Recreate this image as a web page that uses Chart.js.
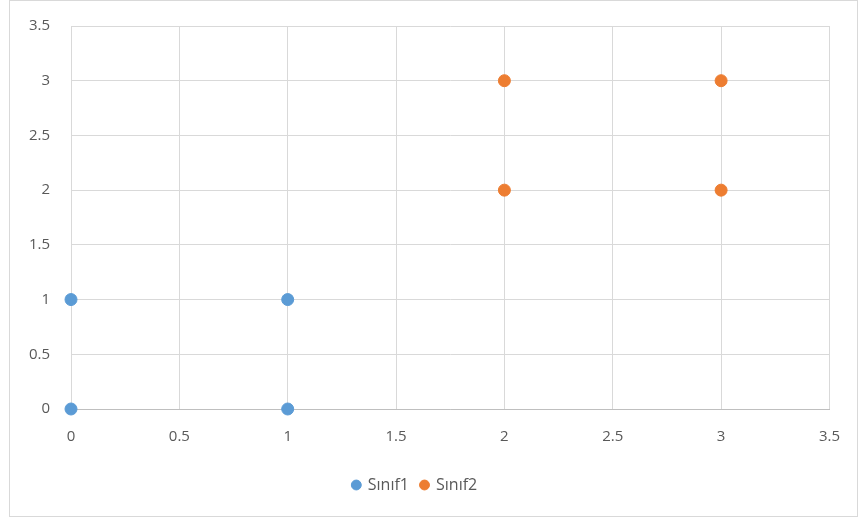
<!DOCTYPE html>
<html>
<head>
<meta charset="utf-8">
<script src="https://cdn.jsdelivr.net/npm/chart.js@4"></script>
<style>
    body { margin: 0; background: #fff; }
    #frame { position: absolute; left: 9px; top: 0; width: 849px; height: 517px; border: 1px solid #d9d9d9; box-sizing: border-box; }
    #wrap { position: absolute; left: 0; top: 0; width: 859px; height: 519px; }
</style>
</head>
<body>
<div id="frame"></div>
<div id="wrap"><canvas id="chart"></canvas></div>
<script>
// points per class
const sinif1X = [0, 0, 1, 1];
const sinif1Y = [0, 1, 0, 1];
const sinif2X = [2, 2, 3, 3];
const sinif2Y = [2, 3, 2, 3];
const seriesNames = ['Sınıf1', 'Sınıf2'];
const axisMin = 0;
const axisMax = 3.5;
const axisStep = 0.5;

function toPoints(xs, ys) {
    return xs.map((x, i) => ({ x: x, y: ys[i] }));
}

const tickFont = { family: 'Open Sans', size: 15 };
const plainNum = v => String(v);

new Chart(document.getElementById('chart'), {
    type: 'scatter',
    data: {
        datasets: [
            { label: seriesNames[0], data: toPoints(sinif1X, sinif1Y), backgroundColor: '#5b9bd5', borderColor: '#5b9bd5', pointRadius: 6, pointHoverRadius: 6, clip: false },
            { label: seriesNames[1], data: toPoints(sinif2X, sinif2Y), backgroundColor: '#ed7d31', borderColor: '#ed7d31', pointRadius: 6, pointHoverRadius: 6, clip: false }
        ]
    },
    options: {
        responsive: true,
        maintainAspectRatio: false,
        animation: false,
        layout: { padding: { left: 0, top: 26, right: 29, bottom: 16 } },
        plugins: {
            tooltip: { enabled: false },
            legend: {
                position: 'bottom',
                labels: {
                    usePointStyle: true,
                    pointStyle: 'circle',
                    boxWidth: 7,
                    boxHeight: 7,
                    padding: 12,
                    color: '#595959',
                    font: { family: 'Open Sans', size: 16 }
                }
            }
        },
        scales: {
            x: {
                type: 'linear',
                min: axisMin,
                max: axisMax,
                ticks: { stepSize: axisStep, color: '#595959', font: tickFont, padding: 19, callback: plainNum },
                grid: { color: '#d9d9d9', drawTicks: false },
                border: { color: '#bfbfbf' },
                afterFit: s => { s.height = 56; }
            },
            y: {
                type: 'linear',
                min: axisMin,
                max: axisMax,
                ticks: { stepSize: axisStep, color: '#595959', font: tickFont, padding: 21, callback: plainNum },
                grid: { color: '#d9d9d9', drawTicks: false },
                border: { color: '#d9d9d9' },
                // fixed width; let layout padding decide the top edge
                afterFit: s => { s.width = 71; s.paddingTop = 0; s.paddingBottom = 0; }
            }
        }
    }
});
</script>
</body>
</html>
